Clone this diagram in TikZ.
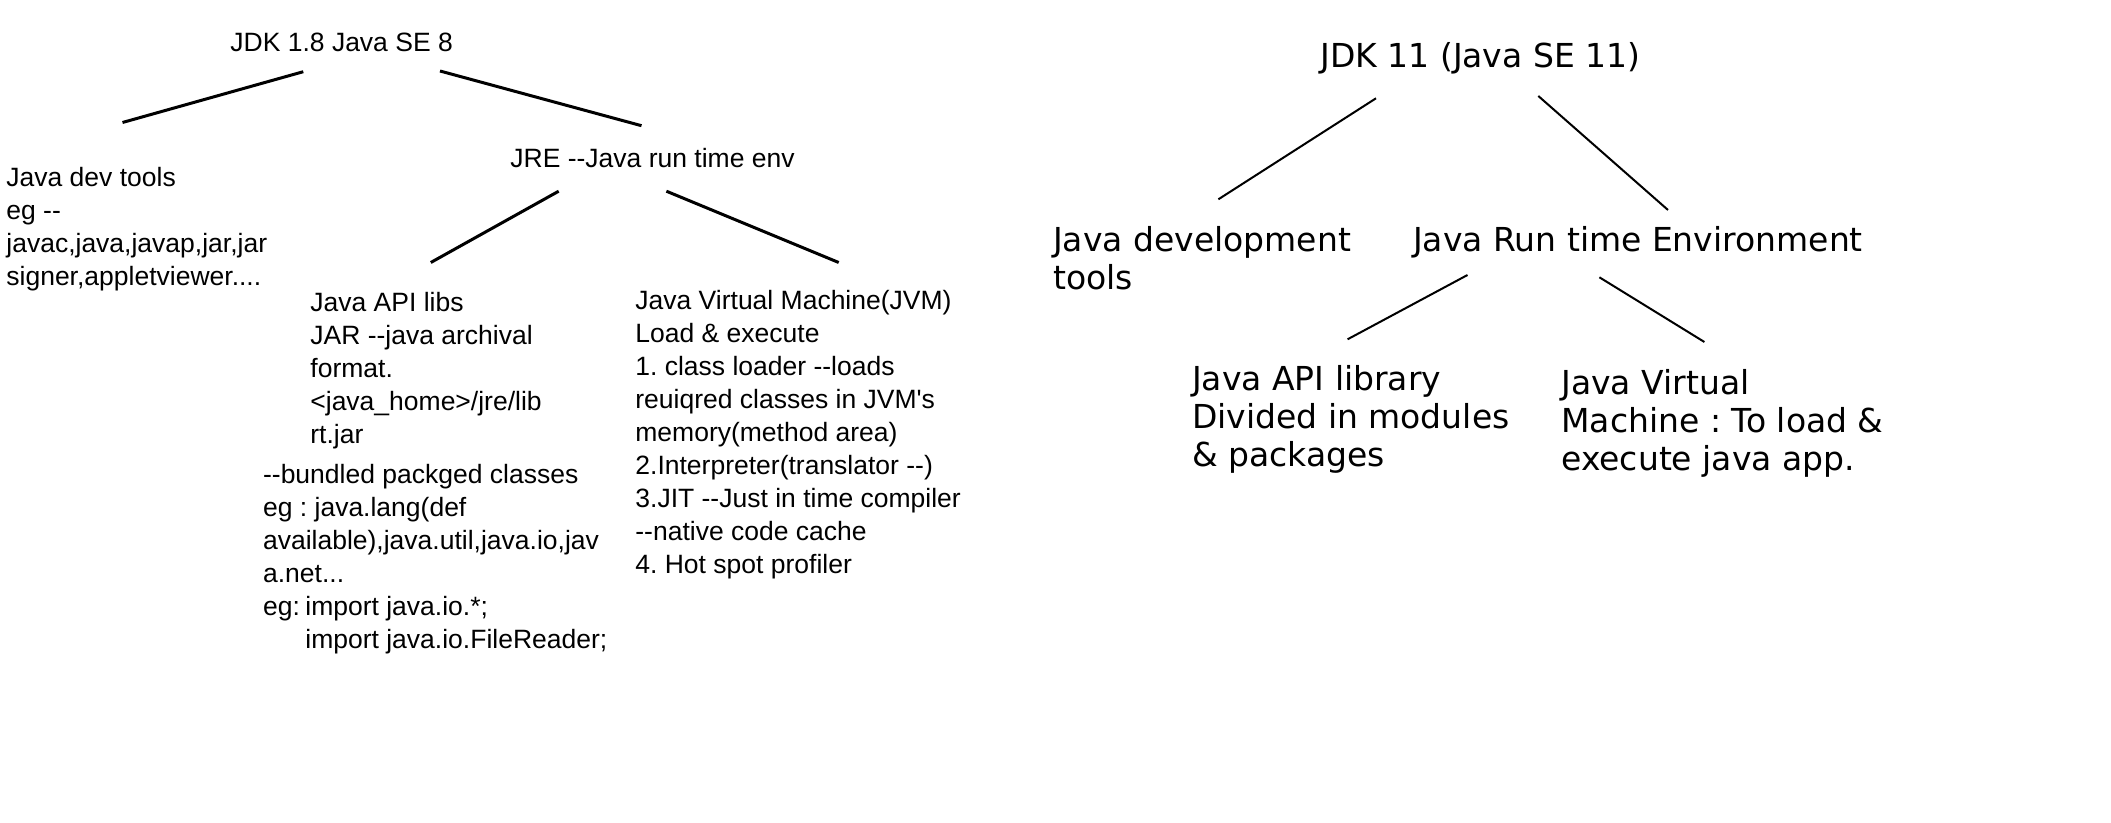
\documentclass[tikz,border=0pt]{standalone}
\usepackage{fontspec}
\usetikzlibrary{calc}
\newfontfamily\tahomalike[Ligatures=TeXOff]{Liberation Sans}
\newfontfamily\verdanalike[Ligatures=TeXOff]{DejaVu Sans}
\frenchspacing

\begin{document}
\begin{tikzpicture}[x=0.5pt, y=-0.5pt,
    eighttext/.style={anchor=base west, inner sep=0pt, align=left,
      font=\tahomalike\fontsize{13.25pt}{16.5pt}\selectfont},
    eleventext/.style={anchor=base west, inner sep=0pt, align=left,
      font=\verdanalike\fontsize{16.5pt}{18.85pt}\selectfont},
    eightline/.style={line width=1.5pt},
    elevenline/.style={line width=1pt}]
  \fill[white] (0,0) rectangle (2111,823);
  \useasboundingbox (0,0) rectangle (2111,823);
  % JDK 1.8 tree (multi-line nodes sit on their last line)
  \node[eighttext] (jdk8) at (230,52) {JDK 1.8 Java SE 8};
  \node[eighttext] (devtools) at (6,286) {Java dev tools\\eg --\\javac,java,javap,jar,jar\\signer,appletviewer....};
  \node[eighttext] (jre8) at (510,168) {JRE --Java run time env};
  \node[eighttext] (apilibs) at (310,443.7) {Java API libs\\JAR --java archival\\format.\\<java\_home>/jre/lib\\rt.jar};
  \node[eighttext] (bundled) at (262.7,648) {--bundled packged classes\\eg : java.lang(def\\available),java.util,java.io,jav\\a.net...\\\makebox[21.15pt][l]{eg:}import java.io.*;\\\hspace*{21.15pt}import java.io.FileReader;};
  \node[eighttext] (jvm8) at (635,573.3) {Java Virtual Machine(JVM)\\Load \& execute\\1. class loader --loads\\reuiqred classes in JVM's\\memory(method area)\\2.Interpreter(translator --)\\3.JIT --Just in time compiler\\--native code cache\\4. Hot spot profiler};
  \draw[eightline] ($(jdk8.base west)+(73.3,19.7)$) -- ($(devtools.base west)+(116.5,-163.5)$);
  \draw[eightline] ($(jdk8.base west)+(210,19)$) -- ($(jre8.base west)+(131.5,-42.3)$);
  \draw[eightline] ($(jre8.base west)+(48.7,23.2)$) -- ($(apilibs.base west)+(120.8,-181.2)$);
  \draw[eightline] ($(jre8.base west)+(156.4,23.2)$) -- ($(jvm8.base west)+(203.7,-310.8)$);
  % JDK 11 tree
  \node[eleventext] (jdk11) at (1320,68) {JDK 11 (Java SE 11)};
  \node[eleventext] (devtools11) at (1052.7,289.4) {Java development\\tools};
  \node[eleventext] (jre11) at (1412.7,251.7) {Java Run time Environment};
  \node[eleventext] (apilib11) at (1191.7,466.1) {Java API library\\Divided in modules\\\& packages};
  \node[eleventext] (jvm11) at (1561,470.4) {Java Virtual\\Machine : To load \&\\execute java app.};
  \draw[elevenline] ($(jdk11.base west)+(56,30.3)$) -- ($(devtools11.base west)+(165.7,-90.1)$);
  \draw[elevenline] ($(jdk11.base west)+(218.3,28)$) -- ($(jre11.base west)+(255.3,-41.7)$);
  \draw[elevenline] ($(jre11.base west)+(54.8,23.3)$) -- ($(apilib11.base west)+(155.9,-126.8)$);
  \draw[elevenline] ($(jre11.base west)+(186.7,25.6)$) -- ($(jvm11.base west)+(143.4,-128.4)$);
\end{tikzpicture}
\end{document}
